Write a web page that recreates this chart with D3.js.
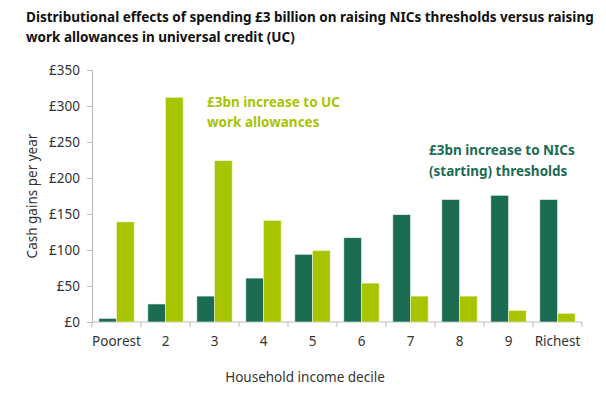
<!DOCTYPE html>
<html>
<head>
<meta charset="utf-8">
<script src="https://cdn.jsdelivr.net/npm/d3@7"></script>
<style>
  body { margin: 0; background: #fff; }
  text { font-family: "Noto Sans", "Open Sans", sans-serif; }
</style>
</head>
<body>
<script>
var deciles = ["Poorest", "2", "3", "4", "5", "6", "7", "8", "9", "Richest"];
var nicsGains = [5, 25, 36, 61, 94, 117, 149, 170, 176, 170];
var ucGains = [139, 312, 224, 141, 99, 54, 36, 36, 16, 12];
var yTicks = [0, 50, 100, 150, 200, 250, 300, 350];

var dark = "#1c6b53", light = "#a8c400";

var svg = d3.select("body").append("svg")
  .attr("width", 606)
  .attr("height", 396);

var margin = { top: 70, right: 24, bottom: 74, left: 92 },
  width = 606 - margin.left - margin.right,
  height = 396 - margin.top - margin.bottom,
  g = svg.append("g").attr("transform", "translate(" + margin.left + "," + margin.top + ")");

svg.append("text")
  .attr("x", 26).attr("y", 22)
  .attr("font-size", 13.5).attr("font-weight", "bold").attr("fill", "#111")
  .text("Distributional effects of spending £3 billion on raising NICs thresholds versus raising");
svg.append("text")
  .attr("x", 26).attr("y", 42)
  .attr("font-size", 13.5).attr("font-weight", "bold").attr("fill", "#111")
  .text("work allowances in universal credit (UC)");

var x = d3.scaleBand()
  .domain(deciles)
  .range([0, width])
  .paddingInner(0.28)
  .paddingOuter(0.14);

var step = x.step();

var sub = d3.scaleBand()
  .domain(["nics", "uc"])
  .range([0, x.bandwidth()]);

var y = d3.scaleLinear()
  .domain([0, 350])
  .range([height, 0]);

// y axis
var yAxis = g.append("g")
  .call(d3.axisLeft(y).tickValues(yTicks).tickSize(5).tickFormat(function(d) { return "£" + d; }));
yAxis.select(".domain").attr("stroke", "#bbb");
yAxis.selectAll(".tick line").attr("stroke", "#bbb");
yAxis.selectAll(".tick text")
  .attr("font-size", 13.5).attr("fill", "#333")
  .attr("x", -12)
  .style("font-family", "'Noto Sans', sans-serif");

// x axis with ticks at band boundaries
var xAxis = g.append("g").attr("transform", "translate(0," + height + ")");
xAxis.append("line")
  .attr("x1", 0).attr("x2", width)
  .attr("stroke", "#bbb");
xAxis.selectAll(".bt")
  .data(d3.range(deciles.length + 1))
  .enter().append("line")
  .attr("x1", function(i) { return i * step; })
  .attr("x2", function(i) { return i * step; })
  .attr("y1", 0).attr("y2", 5)
  .attr("stroke", "#bbb");
xAxis.selectAll(".lbl")
  .data(deciles)
  .enter().append("text")
  .attr("x", function(d) { return x(d) + x.bandwidth() / 2; })
  .attr("y", 24)
  .attr("text-anchor", "middle")
  .attr("font-size", 13.5).attr("fill", "#333")
  .text(function(d) { return d; });

// bars
var groups = g.selectAll(".grp")
  .data(deciles)
  .enter().append("g")
  .attr("transform", function(d) { return "translate(" + x(d) + ",0)"; });

groups.append("rect")
  .attr("x", sub("nics"))
  .attr("y", function(d, i) { return y(nicsGains[i]); })
  .attr("width", sub.bandwidth())
  .attr("height", function(d, i) { return height - y(nicsGains[i]); })
  .attr("fill", dark)
  .attr("stroke", "#e8efe9").attr("stroke-width", 0.6);

groups.append("rect")
  .attr("x", sub("uc"))
  .attr("y", function(d, i) { return y(ucGains[i]); })
  .attr("width", sub.bandwidth())
  .attr("height", function(d, i) { return height - y(ucGains[i]); })
  .attr("fill", light)
  .attr("stroke", "#eef3d6").attr("stroke-width", 0.6);

// axis titles
svg.append("text")
  .attr("transform", "translate(37," + (margin.top + height / 2) + ") rotate(-90)")
  .attr("text-anchor", "middle")
  .attr("font-size", 13.5).attr("fill", "#333")
  .text("Cash gains per year");

svg.append("text")
  .attr("x", 305).attr("y", 382)
  .attr("text-anchor", "middle")
  .attr("font-size", 13.5).attr("fill", "#333")
  .text("Household income decile");

// annotations
var ucNote = svg.append("text")
  .attr("font-size", 13.5).attr("font-weight", "bold").attr("fill", light);
ucNote.append("tspan").attr("x", 207).attr("y", 107).text("£3bn increase to UC");
ucNote.append("tspan").attr("x", 207).attr("y", 127).text("work allowances");

var nicsNote = svg.append("text")
  .attr("font-size", 13.5).attr("font-weight", "bold").attr("fill", dark);
nicsNote.append("tspan").attr("x", 429).attr("y", 155).text("£3bn increase to NICs");
nicsNote.append("tspan").attr("x", 429).attr("y", 176).text("(starting) thresholds");
</script>
</body>
</html>
